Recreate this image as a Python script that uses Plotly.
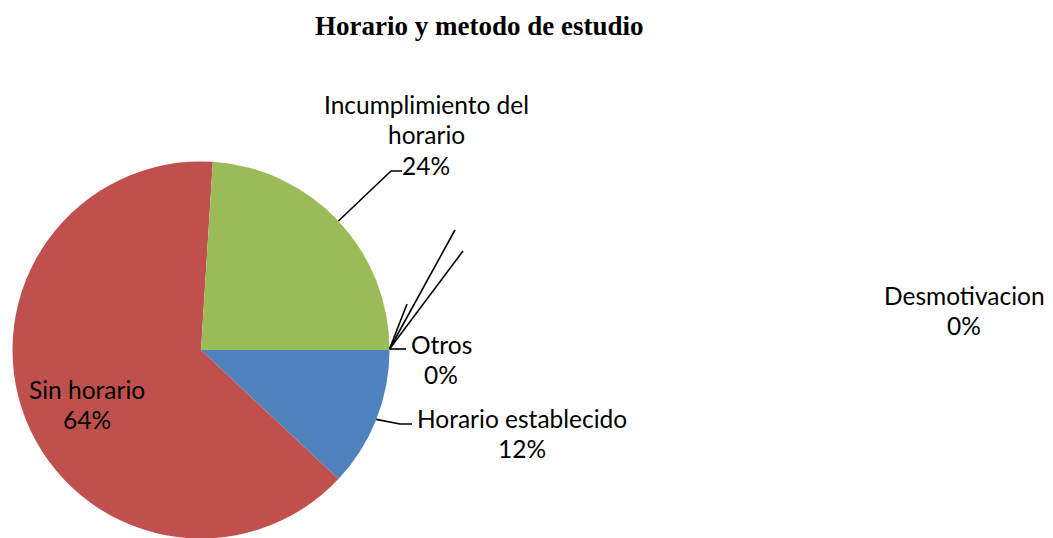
import math
import plotly.graph_objects as go

W, H = 1053, 538
OFF = 8  # default page body margin offsets the figure

# ---- data ----
categories = ["Horario establecido", "Sin horario", "Incumplimiento del horario", "Otros", "Desmotivacion"]
display_lines = [["Horario establecido"], ["Sin horario"], ["Incumplimiento del", "horario"], ["Otros"], ["Desmotivacion"]]
values = [12, 64, 24, 0, 0]
colors = ["#4F81BD", "#C0504D", "#9BBB59", "#8064A2", "#4BACC6"]
title_text = "Horario y metodo de estudio"

# label placement (page pixel centres of first line), line spacing
label_pos = {
    "Horario establecido": (522, 418),
    "Sin horario": (87, 389),
    "Incumplimiento del horario": (426, 104),
    "Otros": (441, 344),
    "Desmotivacion": (964, 295),
}
LINE_GAP = 30.5

# pie geometry (page pixels)
CX, CY, R = 201, 350, 188.5


def px(x, y):
    return (x - OFF) / W, 1 - (y - OFF) / H


fig = go.Figure()
fig.add_trace(go.Pie(
    labels=categories,
    values=values,
    sort=False,
    direction="clockwise",
    rotation=90,
    marker=dict(colors=colors, line=dict(width=0)),
    textinfo="none",
    hoverinfo="label+percent",
    showlegend=False,
    domain=dict(x=[(CX - OFF - R) / W, (CX - OFF + R) / W],
                y=[1 - (CY - OFF + R) / H, 1 - (CY - OFF - R) / H]),
))

total = sum(values)
annotations = []
font = dict(family="Lato, 'Noto Sans', sans-serif", size=24.5, color="#000000")
for cat, lines, v in zip(categories, display_lines, values):
    pct = f"{round(100 * v / total)}%"
    x0, y0 = label_pos[cat]
    for i, t in enumerate(lines + [pct]):
        ax, ay = px(x0, y0 + i * LINE_GAP)
        annotations.append(dict(text=t, x=ax, y=ay, xref="paper", yref="paper",
                                xanchor="center", yanchor="middle", showarrow=False,
                                font=font))

tx, ty = px(479, 26)
annotations.append(dict(text=f"<b>{title_text}</b>", x=tx, y=ty, xref="paper", yref="paper",
                        xanchor="center", yanchor="middle", showarrow=False,
                        font=dict(family="'Liberation Serif', 'Times New Roman', serif", size=27, color="#000")))

# leader lines computed from slice mid-angles
cum = 0
mid_angles = {}
for cat, v in zip(categories, values):
    a0 = cum / total * 360
    cum += v
    a1 = cum / total * 360
    mid_angles[cat] = (a0 + a1) / 2  # clockwise from 3 o'clock


def edge_point(cat):
    a = math.radians(mid_angles[cat])
    return CX + R * math.cos(a), CY + R * math.sin(a)


def path(points):
    d = ""
    for i, (x, y) in enumerate(points):
        X, Y = px(x, y)
        d += ("M" if i == 0 else "L") + f"{X},{Y} "
    return d


shapes = []
line_style = dict(color="#000000", width=1.6)
ex, ey = edge_point("Incumplimiento del horario")
shapes.append(dict(type="path", xref="paper", yref="paper", path=path([(ex, ey), (391, 171), (402, 171)]), line=line_style))
ex, ey = edge_point("Horario establecido")
shapes.append(dict(type="path", xref="paper", yref="paper", path=path([(ex, ey), (400, 424), (412, 424)]), line=line_style))
ex, ey = edge_point("Otros")
shapes.append(dict(type="path", xref="paper", yref="paper", path=path([(ex, ey - 1), (406, ey - 1)]), line=line_style))
for lx, ly in [(407, 304), (455, 230), (463, 251)]:
    shapes.append(dict(type="path", xref="paper", yref="paper", path=path([(ex, ey - 1), (lx, ly)]), line=line_style))

fig.update_layout(
    width=W, height=H,
    margin=dict(l=0, r=0, t=0, b=0),
    paper_bgcolor="white", plot_bgcolor="white",
    annotations=annotations,
    shapes=shapes,
)

fig.write_html("out.html")
